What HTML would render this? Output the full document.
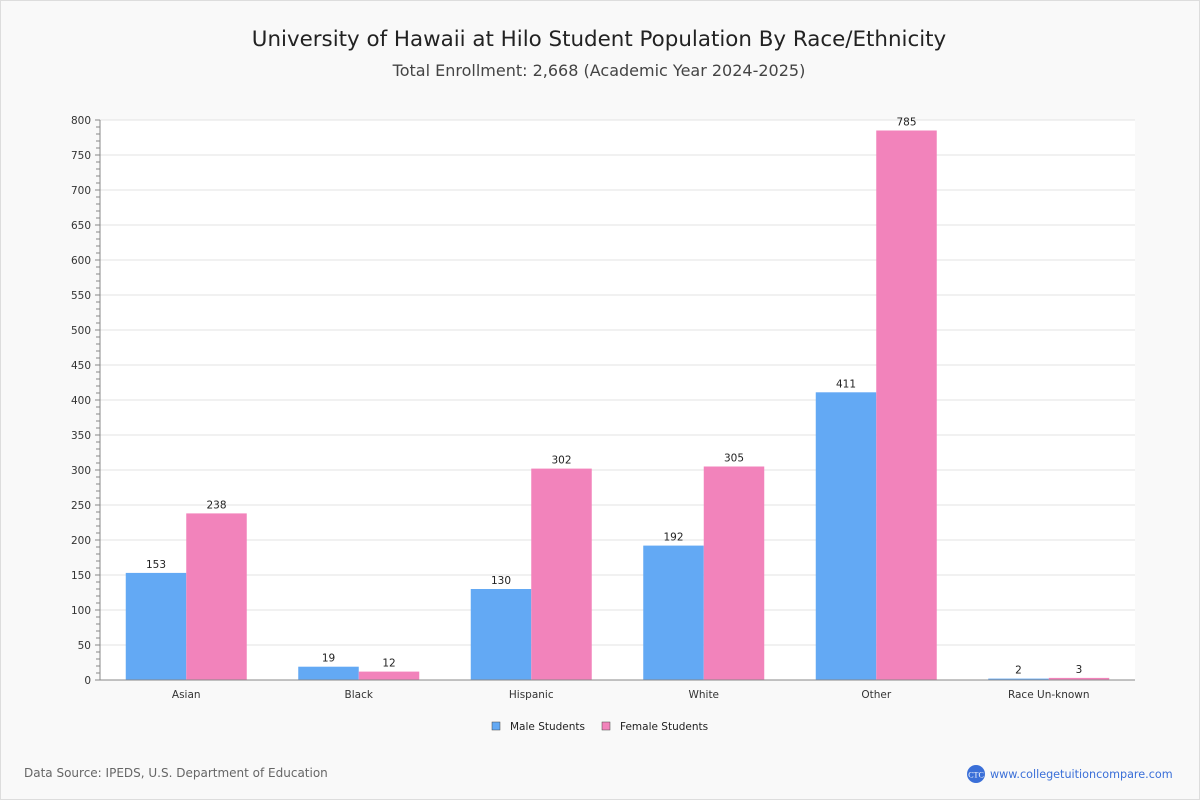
<!DOCTYPE html>
<html><head><meta charset="utf-8"><style>
body{margin:0;background:#fff;font-family:"DejaVu Sans","Liberation Sans",sans-serif}
#wrap{position:relative;width:1200px;height:800px;box-sizing:border-box;border:1px solid #ddd;background:#f9f9f9;overflow:hidden}
svg{position:absolute;left:-1px;top:-1px}
</style></head><body>
<div id="wrap">
<svg id="c" width="1200" height="800">
<text x="599" y="46" text-anchor="middle" font-size="21.4" fill="#222">University of Hawaii at Hilo Student Population By Race/Ethnicity</text>
<text x="599" y="76" text-anchor="middle" font-size="16" fill="#444">Total Enrollment: 2,668 (Academic Year 2024-2025)</text>
<rect x="100" y="120" width="1035" height="560" fill="#fff"/>
<g id="grid"></g><g id="bars"></g><g id="axes"></g>
<g>
<rect x="492" y="722" width="8" height="8" fill="#63a9f4" stroke="#444" stroke-width="0.5"/>
<text x="510" y="730" font-size="10.5" fill="#222">Male Students</text>
<rect x="602" y="722" width="8" height="8" fill="#f283bb" stroke="#444" stroke-width="0.5"/>
<text x="620" y="730" font-size="10.5" fill="#222">Female Students</text>
</g>
<text x="24" y="777" font-size="12" fill="#666">Data Source: IPEDS, U.S. Department of Education</text>
<circle cx="976" cy="774" r="9" fill="#3a6fd8"/>
<text x="976" y="777.5" text-anchor="middle" font-size="8" fill="#fff" font-family="Liberation Serif,serif">CTC</text>
<text x="990" y="778" font-size="11.2" fill="#3a6fd8">www.collegetuitioncompare.com</text>
</svg></div>
<script>
const categories=["Asian","Black","Hispanic","White","Other","Race Un-known"];
const maleValues=[153,19,130,192,411,2];
const femaleValues=[238,12,302,305,785,3];
const yTicks=[0,50,100,150,200,250,300,350,400,450,500,550,600,650,700,750,800];
const NS="http://www.w3.org/2000/svg";
const X0=100,X1=1135,Y0=680,Y1=120,YMAX=800;
const y=v=>Y0-(v/YMAX)*(Y0-Y1);
const bw=(X1-X0)/categories.length;
const xc=i=>X0+bw*(i+0.5);
function mk(t,a,p){const e=document.createElementNS(NS,t);for(const k in a)e.setAttribute(k,a[k]);p.appendChild(e);return e;}
const grid=document.getElementById('grid'),bars=document.getElementById('bars'),axes=document.getElementById('axes');
yTicks.forEach(v=>{
 if(v>0){const g=mk('line',{x1:X0,x2:X1,y1:y(v),y2:y(v),stroke:'#e3e3e3'},grid);
 
 }
 const t=mk('text',{x:91,y:y(v)+4,'text-anchor':'end','font-size':10.5,fill:'#333'},axes);t.textContent=v;
 
 
});
for(let v=0;v<=YMAX;v+=10){const l=mk('line',{x1:v%50?96:95,x2:X0,y1:y(v),y2:y(v),stroke:'#888'},axes);
 
 }
const ya=mk('line',{x1:X0,x2:X0,y1:Y1,y2:Y0,stroke:'#888'},axes);


const xa=mk('line',{x1:X0,x2:X1,y1:Y0,y2:Y0,stroke:'#888'},axes);


const w=60.5;
categories.forEach((c,i)=>{
 [[maleValues[i],'#63a9f4',-w,'male'],[femaleValues[i],'#f283bb',0,'female']].forEach(([v,col,off,s])=>{
  const r=mk('rect',{x:xc(i)+off,y:y(v),width:w,height:Y0-y(v),fill:col},bars);
  
  
  const t=mk('text',{x:xc(i)+off+w/2,y:y(v)-5,'text-anchor':'middle','font-size':10.5,fill:'#222'},bars);t.textContent=v;
  
  
 });
 const t=mk('text',{x:xc(i),y:Y0+18,'text-anchor':'middle','font-size':10.5,fill:'#333'},axes);t.textContent=c;
 
 
});
</script>
</body></html>
